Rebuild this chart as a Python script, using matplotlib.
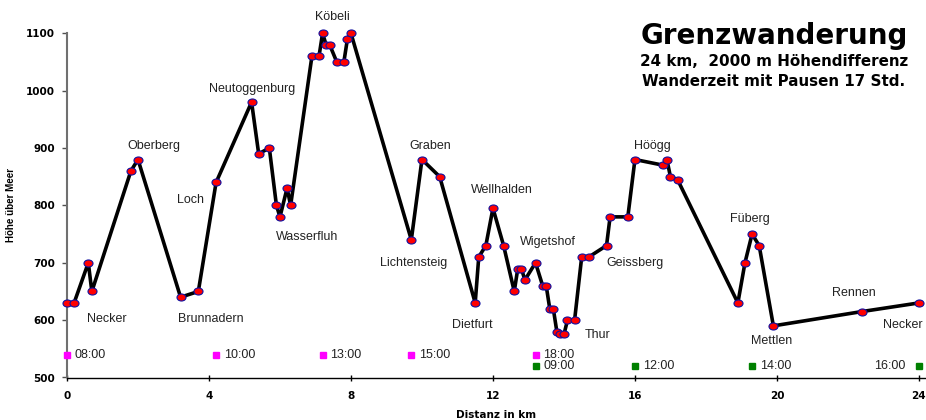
import matplotlib
matplotlib.use("Agg")
import matplotlib.pyplot as plt
from matplotlib.path import Path
import numpy as np

plt.rcParams['font.family'] = ['Liberation Sans', 'DejaVu Sans']
BOLD = ['DejaVu Sans']

# --- data ---
dist = [0, 0.2, 0.6, 0.7, 1.8, 2.0, 3.2, 3.7, 4.2, 5.2, 5.4, 5.7, 5.9, 6.0, 6.2, 6.3,
        6.9, 7.1, 7.2, 7.3, 7.4, 7.6, 7.8, 7.9, 8.0, 9.7, 10.0, 10.5, 11.5, 11.6, 11.8,
        12.0, 12.3, 12.6, 12.7, 12.8, 12.9, 13.2, 13.4, 13.5, 13.6, 13.7, 13.8, 13.9,
        14.0, 14.1, 14.3, 14.5, 14.7, 15.2, 15.3, 15.8, 16.0, 16.8, 16.9, 17.0, 17.2,
        18.9, 19.1, 19.3, 19.5, 19.9, 22.4, 24.0]
elev = [630, 630, 700, 650, 860, 880, 640, 650, 840, 980, 890, 900, 800, 780, 830, 800,
        1060, 1060, 1100, 1080, 1080, 1050, 1050, 1090, 1100, 740, 880, 850, 630, 710, 730,
        795, 730, 650, 690, 690, 670, 700, 660, 660, 620, 620, 580, 575,
        575, 600, 600, 710, 710, 730, 780, 780, 880, 870, 880, 850, 845,
        630, 700, 750, 730, 590, 615, 630]

place_names = ["Oberberg", "Neutoggenburg", "Loch", "Köbeli", "Wasserfluh", "Necker",
               "Brunnadern", "Lichtensteig", "Graben", "Wellhalden", "Wigetshof",
               "Dietfurt", "Thur", "Geissberg", "Höögg", "Füberg", "Rennen", "Mettlen",
               "Necker"]
place_x = [2.44, 5.21, 3.49, 7.48, 6.77, 1.13, 4.06, 9.76, 10.24, 12.25, 13.54,
           11.43, 14.95, 16.0, 16.48, 19.25, 22.16, 19.86, 23.54]
place_y = [903, 1003, 809, 1129, 745, 602, 602, 700, 903, 827, 736,
           591, 574, 700, 903, 777, 648, 563, 591]

time_day1 = ["08:00", "10:00", "13:00", "15:00", "18:00"]
time_day1_x = [0, 4.2, 7.2, 9.7, 13.2]
time_day1_y = 540
time_day2 = ["09:00", "12:00", "14:00", "16:00"]
time_day2_x = [13.2, 16.0, 19.3, 24.0]
time_day2_y = 520

x_ticks = [0, 4, 8, 12, 16, 20, 24]
y_ticks = [500, 600, 700, 800, 900, 1000, 1100]

# --- figure ---
fig = plt.figure(figsize=(9.26, 4.2), dpi=100)
ax = fig.add_axes([67 / 926, 42.5 / 420, 859 / 926, 344.2 / 420])
ax.set_xlim(0, 24.2)
ax.set_ylim(500, 1100)

circ = Path.unit_circle()
ell = Path(circ.vertices * np.array([1.0, 0.78]), circ.codes)

ax.plot(dist, elev, color='black', lw=2.6, zorder=3, clip_on=False,
        marker=ell, markersize=6.5, markerfacecolor='#ff0000',
        markeredgecolor='#1010a0', markeredgewidth=0.8)

for name, x, y in zip(place_names, place_x, place_y):
    ax.text(x, y, name, ha='center', va='center', fontsize=9, color='#222222')

for lab, x in zip(time_day1, time_day1_x):
    ax.plot([x], [time_day1_y], marker='s', markersize=5, color='#ff00ff',
            ls='none', clip_on=False, zorder=4)
    ax.annotate(lab, (x, time_day1_y), xytext=(5.5, 0), textcoords='offset points',
                ha='left', va='center', fontsize=9, color='#222222')
for i, (lab, x) in enumerate(zip(time_day2, time_day2_x)):
    ax.plot([x], [time_day2_y], marker='s', markersize=5, color='#008000',
            ls='none', clip_on=False, zorder=4)
    if i == len(time_day2) - 1:
        ax.annotate(lab, (x, time_day2_y), xytext=(-10, 0), textcoords='offset points',
                    ha='right', va='center', fontsize=9, color='#222222')
    else:
        ax.annotate(lab, (x, time_day2_y), xytext=(5.5, 0), textcoords='offset points',
                    ha='left', va='center', fontsize=9, color='#222222')

# axes styling
for s in ['top', 'right']:
    ax.spines[s].set_visible(False)
ax.spines['left'].set_color('#707070')
ax.spines['left'].set_linewidth(1.5)
ax.spines['bottom'].set_color('black')
ax.spines['bottom'].set_linewidth(1.0)

ax.set_xticks(x_ticks)
ax.set_yticks(y_ticks)
ax.set_xticklabels([str(t) for t in x_ticks], fontweight='bold', fontsize=7.5,
                   family=BOLD)
ax.set_yticklabels([str(t) for t in y_ticks], fontweight='bold', fontsize=7.5,
                   family=BOLD)
ax.tick_params(axis='x', direction='inout', length=5, width=1, pad=7.5)
ax.tick_params(axis='y', direction='out', length=3.5, width=1, color='#505050', pad=5)

ax.set_xlabel('Distanz in km', fontweight='bold', fontsize=7.5, labelpad=6, family=BOLD)
ax.set_ylabel('Höhe über Meer', fontweight='bold', fontsize=7, labelpad=7)

fig.text(774 / 926, 1 - 36 / 420, 'Grenzwanderung', ha='center', va='center',
         fontsize=20, fontweight='bold', family=BOLD)
fig.text(774 / 926, 1 - 61 / 420, '24 km,  2000 m Höhendifferenz', ha='center',
         va='center', fontsize=10.9, fontweight='bold', family=BOLD)
fig.text(774 / 926, 1 - 81 / 420, 'Wanderzeit mit Pausen 17 Std.', ha='center',
         va='center', fontsize=10.9, fontweight='bold', family=BOLD)

fig.savefig('out.png', dpi=100)
